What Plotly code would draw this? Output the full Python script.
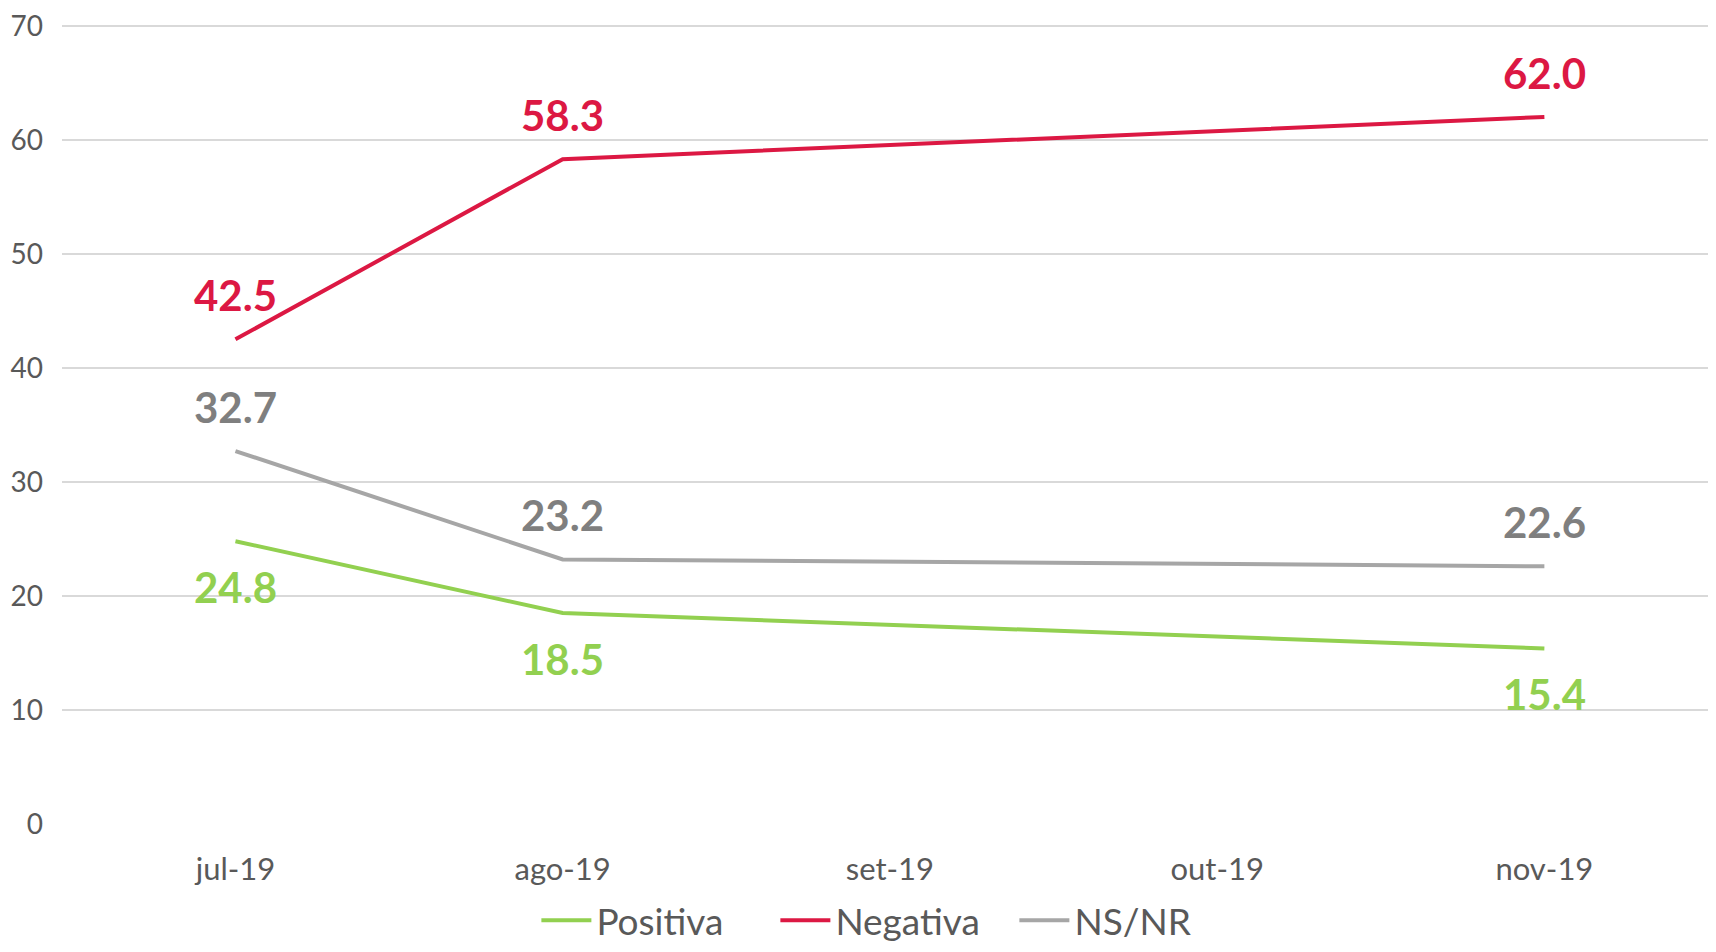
import plotly.graph_objects as go

categories = ["jul-19", "ago-19", "set-19", "out-19", "nov-19"]
positiva = [24.8, 18.5, None, None, 15.4]
negativa = [42.5, 58.3, None, None, 62.0]
nsnr = [32.7, 23.2, None, None, 22.6]
y_ticks = [0, 10, 20, 30, 40, 50, 60, 70]

series = [
    ("Positiva", positiva, "#92D050", "#92D050", -46),
    ("Negativa", negativa, "#DC1843", "#DC1843", 44),
    ("NS/NR", nsnr, "#A6A6A6", "#7F7F7F", 44),
]

FONT = "Lato"
fig = go.Figure()
annotations = []
for name, vals, col, lcol, shift in series:
    fig.add_trace(go.Scatter(
        x=categories, y=vals, name=name, mode="lines",
        connectgaps=True,
        line=dict(color=col, width=4),
    ))
    for c, v in zip(categories, vals):
        if v is None:
            continue
        annotations.append(dict(
            x=c, y=v, xref="x", yref="y", text=f"{v:.1f}",
            showarrow=False, yshift=shift,
            font=dict(family=FONT, size=42, color=lcol, weight="bold"),
        ))

fig.update_layout(
    width=1700, height=936,
    margin=dict(l=54, r=0, t=16, b=120, autoexpand=False),
    paper_bgcolor="white", plot_bgcolor="white",
    font=dict(family=FONT, color="#595959"),
    annotations=annotations,
    showlegend=True,
    legend=dict(
        orientation="h", x=0.506, xanchor="center", y=-0.121, yanchor="middle",
        font=dict(family=FONT, size=37, color="#595959"),
        itemwidth=50, tracegroupgap=0, entrywidth=174,
    ),
    xaxis=dict(
        type="category", categoryorder="array", categoryarray=categories,
        range=[-0.53, 4.5], showgrid=False, showline=False, zeroline=False,
        ticks="", tickfont=dict(family=FONT, size=31, color="#595959"),
        ticklabelstandoff=24,
    ),
    yaxis=dict(
        range=[0, 70.15], tickvals=y_ticks, showgrid=True,
        gridcolor="#D9D9D9", gridwidth=1.5, zeroline=False, showline=False,
        ticks="", tickfont=dict(family=FONT, size=28, color="#595959"),
        ticklabelstandoff=18, ticklabeloverflow="allow",
    ),
)

fig.write_html("out.html")
